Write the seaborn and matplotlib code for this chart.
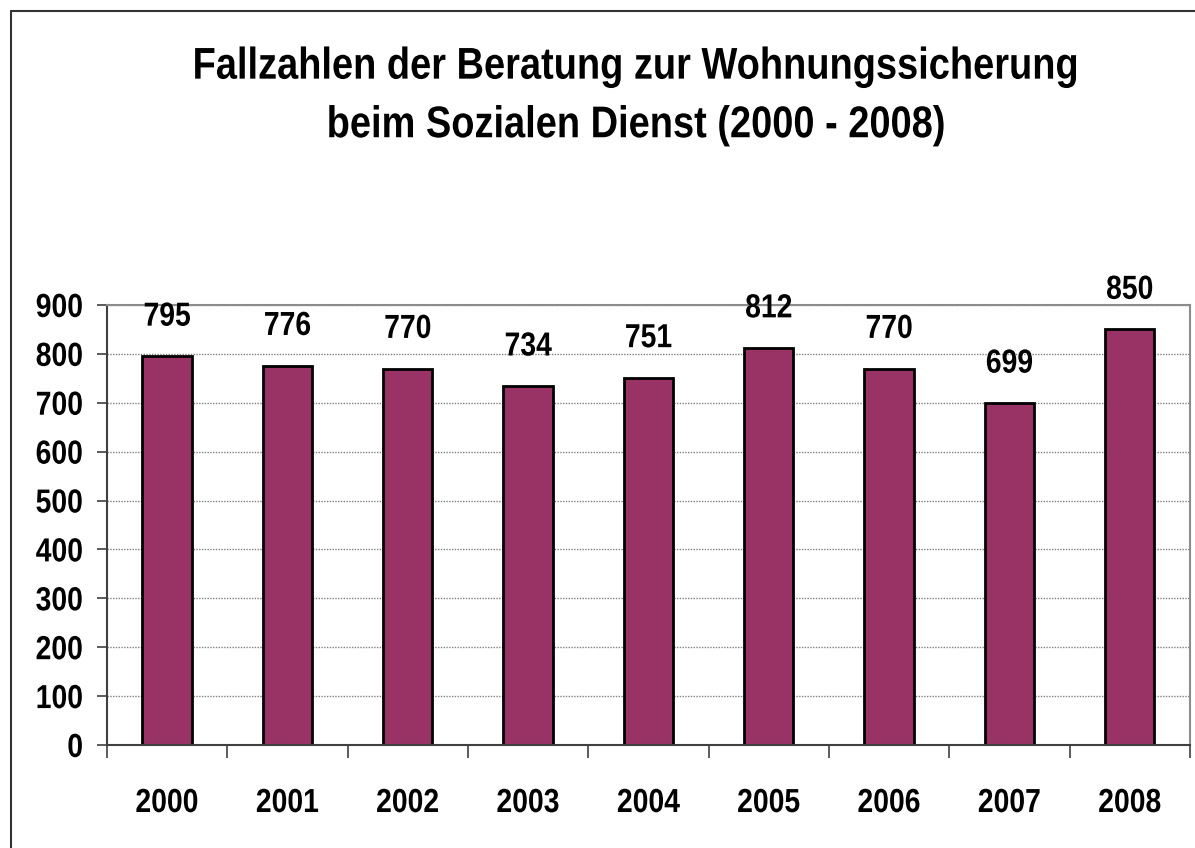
import pandas as pd
import matplotlib.pyplot as plt
import seaborn as sns
from matplotlib.lines import Line2D
from matplotlib.ticker import MultipleLocator
from matplotlib.patheffects import AbstractPathEffect
from matplotlib.transforms import Affine2D

# Data
years = ["2000", "2001", "2002", "2003", "2004", "2005", "2006", "2007", "2008"]
cases = [795, 776, 770, 734, 751, 812, 770, 699, 850]
title = "Fallzahlen der Beratung zur Wohnungssicherung\nbeim Sozialen Dienst (2000 - 2008)"

df = pd.DataFrame({"Jahr": years, "Fälle": cases})


class Condense(AbstractPathEffect):
    """Squeeze glyphs horizontally (narrow font look) around an anchor."""

    def __init__(self, sx=0.85, anchor="center"):
        super().__init__()
        self.sx = sx
        self.anchor = anchor

    def draw_path(self, renderer, gc, tpath, affine, rgbFace=None):
        ext = tpath.get_extents()
        if self.anchor == "right":
            cx = ext.x1
        elif self.anchor == "left":
            cx = ext.x0
        else:
            cx = (ext.x0 + ext.x1) / 2
        t = Affine2D().translate(-cx, 0).scale(self.sx, 1).translate(cx, 0) + affine
        renderer.draw_path(gc, tpath, t, rgbFace)


sns.set_style("white")
plt.rcParams["font.family"] = ["Liberation Sans", "DejaVu Sans"]
plt.rcParams["font.weight"] = "bold"
plt.rcParams["text.color"] = "black"
plt.rcParams["xtick.labelcolor"] = "black"
plt.rcParams["ytick.labelcolor"] = "black"

fig = plt.figure(figsize=(11.95, 8.48), dpi=100)
ax = fig.add_axes([0.0895, 0.1215, 0.9063, 0.5189])

sns.barplot(data=df, x="Jahr", y="Fälle", color="#993366", edgecolor="black",
            linewidth=2, width=0.41, saturation=1, ax=ax)

# Value labels above bars
for i, v in enumerate(cases):
    ax.annotate(str(v), (i, v), xytext=(0, 17), textcoords="offset points",
                ha="center", va="bottom", fontsize=24, fontweight="bold",
                path_effects=[Condense(0.85)])

ax.set_ylim(0, 900)
ax.set_xlim(-0.5, len(years) - 0.5)
ax.yaxis.set_major_locator(MultipleLocator(100))
ax.set_xlabel("")
ax.set_ylabel("")

# Dotted gridlines
ax.grid(axis="y", linestyle=(0, (1, 1)), color="#808080", linewidth=1)
ax.set_axisbelow(True)

for side in ["top", "right"]:
    ax.spines[side].set_visible(True)
    ax.spines[side].set_color("#8c8c8c")
    ax.spines[side].set_linewidth(1.5)
ax.spines["left"].set_color("#404040")
ax.spines["bottom"].set_color("#404040")
ax.spines["left"].set_linewidth(1.5)
ax.spines["bottom"].set_linewidth(1.5)

# Ticks: y major outward, x tick marks between categories
ax.tick_params(axis="y", which="major", direction="out", length=7, width=1.2,
               color="#404040", labelsize=24, pad=10, left=True)
ax.set_xticks(range(len(years)))
ax.set_xticks([i - 0.5 for i in range(len(years) + 1)], minor=True)
ax.tick_params(axis="x", which="major", length=0, labelsize=24, pad=31)
ax.tick_params(axis="x", which="minor", direction="out", length=9, width=1.2,
               color="#404040", bottom=True)
for lbl in ax.get_xticklabels():
    lbl.set_fontweight("bold")
    lbl.set_path_effects([Condense(0.85)])
for lbl in ax.get_yticklabels():
    lbl.set_fontweight("bold")
    lbl.set_path_effects([Condense(0.85, "right")])

fig.text(0.5326, 0.945, title, ha="center", va="top", fontsize=32,
         fontweight="bold", linespacing=1.55, path_effects=[Condense(0.855)])

# Frame lines (left and top visible in reference)
fig.add_artist(Line2D([0.0088, 0.0088], [0.0, 0.9865], color="#333333", linewidth=1.5))
fig.add_artist(Line2D([0.0088, 1.0], [0.9865, 0.9865], color="#333333", linewidth=1.5))

fig.savefig("out.png", dpi=100)
